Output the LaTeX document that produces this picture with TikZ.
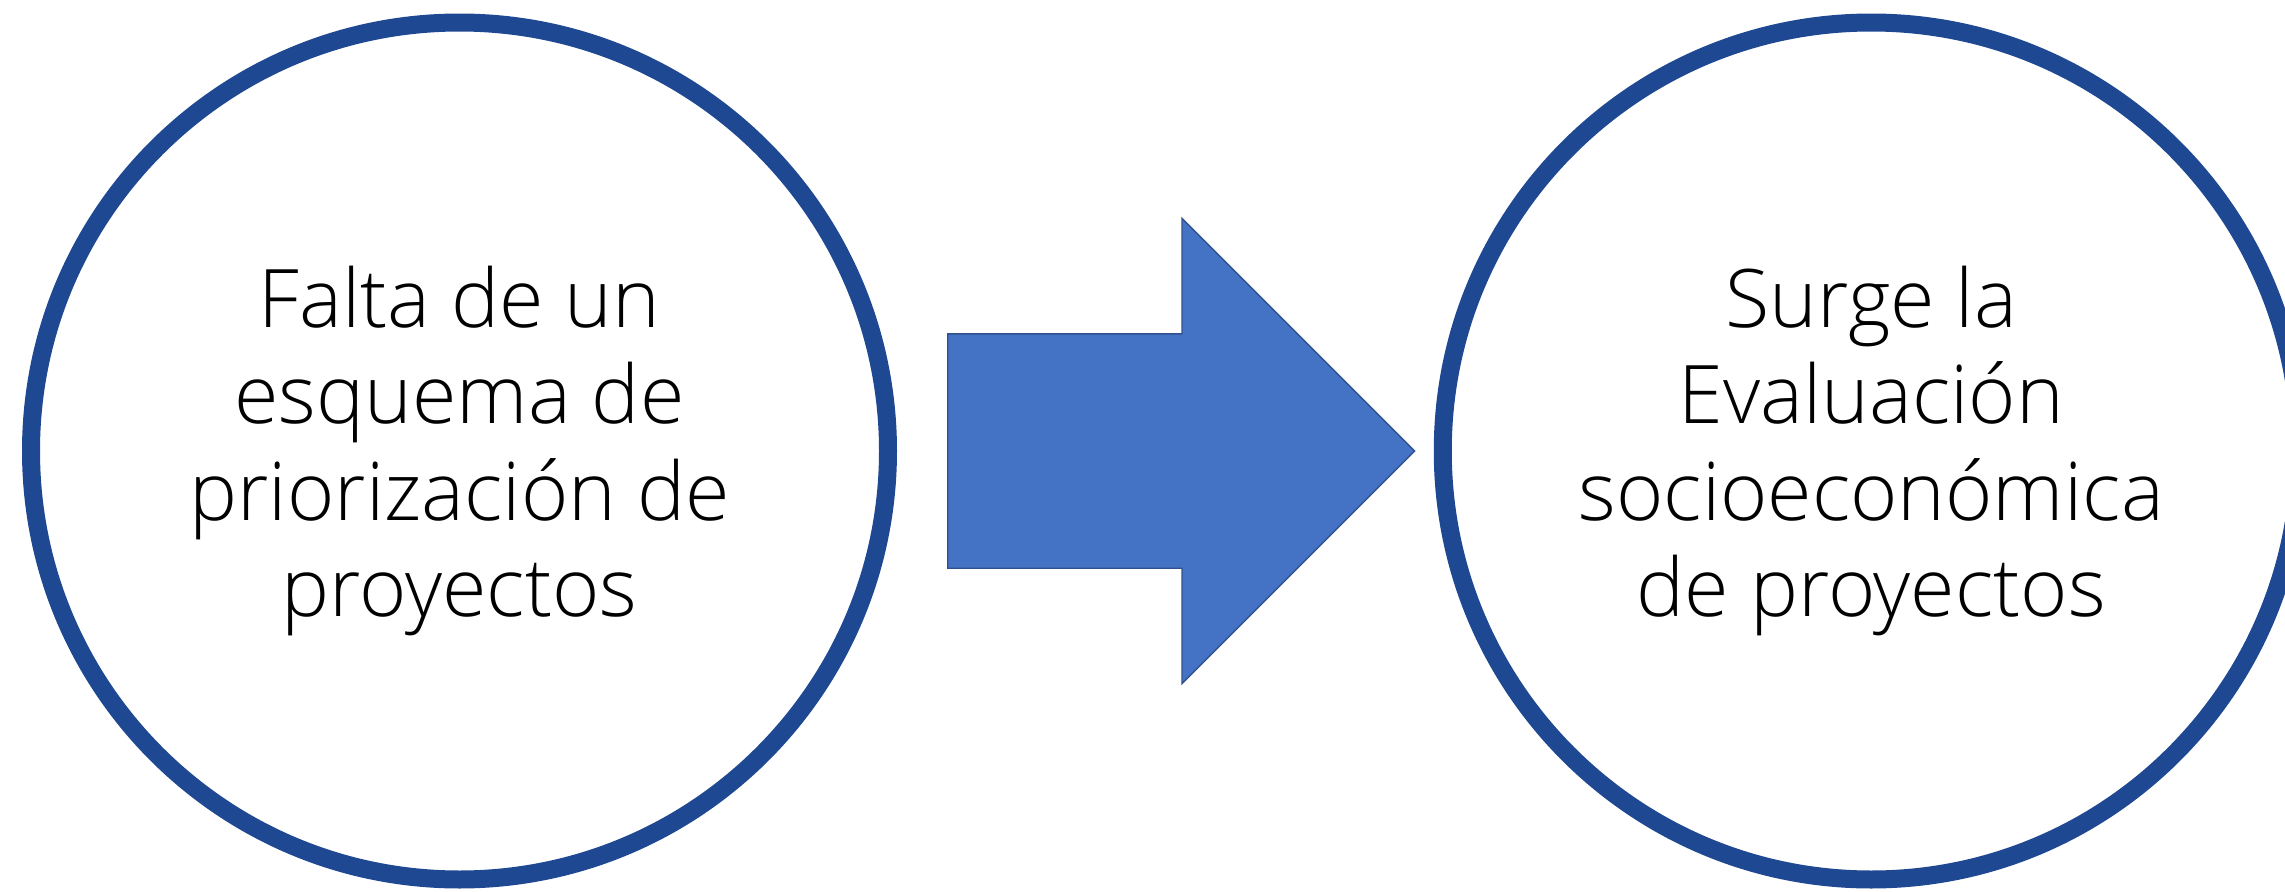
\documentclass[tikz,border=0pt]{standalone}
\usepackage{fontspec}
\setmainfont{Open Sans}[UprightFont={* Light}]
\usepackage{xcolor}
\usetikzlibrary{shapes.arrows, positioning}

\definecolor{ringblue}{RGB}{30,72,145}
\definecolor{arrowfill}{RGB}{68,114,196}
\definecolor{arrowedge}{RGB}{47,82,143}

\begin{document}
\begin{tikzpicture}[
    node distance=0.5cm,
    stage/.style={circle, draw=ringblue, line width=0.18cm, fill=white, minimum size=8.57cm, align=center, inner sep=0pt, font=\fontsize{23}{27.5}\selectfont},
    bigarrow/.style={single arrow, draw=arrowedge, line width=0.4pt, fill=arrowfill, minimum height=4.67cm, inner xsep=0pt, inner ysep=1.165cm, single arrow head extend=1.155cm, single arrow tip angle=90}
]
    \useasboundingbox (0,0) rectangle (22.85,8.91);

    % Stages and the flow between them
    \node[stage] (problem) at (4.595,4.40) {Falta de un\\esquema de\\priorización de\\proyectos};
    \node[bigarrow, right=0.5cm of problem] (flow) {};
    \node[stage, right=0.18cm of flow] (evaluation) {Surge la\\Evaluación\\socioeconómica\\de proyectos};
\end{tikzpicture}
\end{document}
